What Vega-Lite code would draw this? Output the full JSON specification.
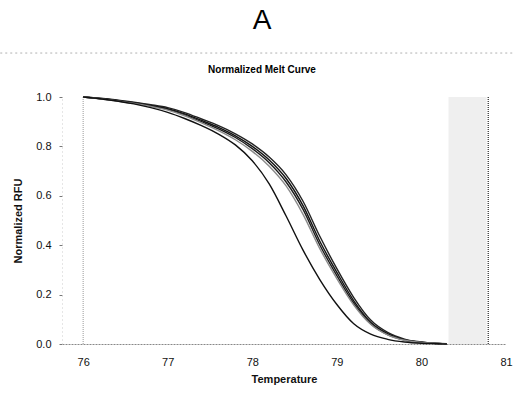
{
  "$schema": "https://vega.github.io/schema/vega-lite/v6.json",
  "width": 444,
  "height": 247,
  "autosize": "none",
  "padding": {"left": 62, "top": 97, "right": 8, "bottom": 54},
  "background": "white",
  "title": {
    "text": "A",
    "subtitle": "Normalized Melt Curve",
    "anchor": "middle",
    "dx": -22,
    "font": "Liberation Sans",
    "fontSize": 28,
    "fontWeight": "normal",
    "color": "#000000",
    "subtitleFont": "Liberation Sans",
    "subtitleFontSize": 10,
    "subtitleFontWeight": "bold",
    "subtitleColor": "#000000",
    "subtitlePadding": 30,
    "offset": -22
  },
  "config": {
    "view": {"stroke": null},
    "axis": {
      "labelFont": "Liberation Sans",
      "titleFont": "Liberation Sans",
      "labelColor": "#111111",
      "titleColor": "#111111",
      "labelFontSize": 11,
      "titleFontSize": 11,
      "titleFontWeight": "bold",
      "grid": false
    }
  },
  "datasets": {
    "curves": [
      {"s":"M1","t":76.0,"v":1.000},{"s":"M1","t":76.2,"v":0.994},{"s":"M1","t":76.4,"v":0.986},{"s":"M1","t":76.6,"v":0.977},{"s":"M1","t":76.8,"v":0.966},{"s":"M1","t":77.0,"v":0.953},{"s":"M1","t":77.2,"v":0.932},{"s":"M1","t":77.4,"v":0.905},{"s":"M1","t":77.6,"v":0.877},{"s":"M1","t":77.8,"v":0.843},{"s":"M1","t":78.0,"v":0.800},{"s":"M1","t":78.2,"v":0.745},{"s":"M1","t":78.4,"v":0.670},{"s":"M1","t":78.6,"v":0.560},{"s":"M1","t":78.8,"v":0.415},{"s":"M1","t":79.0,"v":0.290},{"s":"M1","t":79.2,"v":0.175},{"s":"M1","t":79.4,"v":0.088},{"s":"M1","t":79.6,"v":0.042},{"s":"M1","t":79.8,"v":0.018},{"s":"M1","t":80.0,"v":0.007},{"s":"M1","t":80.2,"v":0.002},{"s":"M1","t":80.3,"v":0.001},
      {"s":"M2","t":76.0,"v":1.000},{"s":"M2","t":76.2,"v":0.995},{"s":"M2","t":76.4,"v":0.988},{"s":"M2","t":76.6,"v":0.979},{"s":"M2","t":76.8,"v":0.969},{"s":"M2","t":77.0,"v":0.957},{"s":"M2","t":77.2,"v":0.937},{"s":"M2","t":77.4,"v":0.911},{"s":"M2","t":77.6,"v":0.884},{"s":"M2","t":77.8,"v":0.851},{"s":"M2","t":78.0,"v":0.810},{"s":"M2","t":78.2,"v":0.757},{"s":"M2","t":78.4,"v":0.685},{"s":"M2","t":78.6,"v":0.578},{"s":"M2","t":78.8,"v":0.435},{"s":"M2","t":79.0,"v":0.305},{"s":"M2","t":79.2,"v":0.188},{"s":"M2","t":79.4,"v":0.097},{"s":"M2","t":79.6,"v":0.047},{"s":"M2","t":79.8,"v":0.020},{"s":"M2","t":80.0,"v":0.008},{"s":"M2","t":80.2,"v":0.002},{"s":"M2","t":80.3,"v":0.001},
      {"s":"M3","t":76.0,"v":1.000},{"s":"M3","t":76.2,"v":0.993},{"s":"M3","t":76.4,"v":0.985},{"s":"M3","t":76.6,"v":0.975},{"s":"M3","t":76.8,"v":0.964},{"s":"M3","t":77.0,"v":0.950},{"s":"M3","t":77.2,"v":0.928},{"s":"M3","t":77.4,"v":0.900},{"s":"M3","t":77.6,"v":0.871},{"s":"M3","t":77.8,"v":0.836},{"s":"M3","t":78.0,"v":0.791},{"s":"M3","t":78.2,"v":0.734},{"s":"M3","t":78.4,"v":0.656},{"s":"M3","t":78.6,"v":0.545},{"s":"M3","t":78.8,"v":0.400},{"s":"M3","t":79.0,"v":0.277},{"s":"M3","t":79.2,"v":0.165},{"s":"M3","t":79.4,"v":0.082},{"s":"M3","t":79.6,"v":0.038},{"s":"M3","t":79.8,"v":0.016},{"s":"M3","t":80.0,"v":0.006},{"s":"M3","t":80.2,"v":0.002},{"s":"M3","t":80.3,"v":0.000},
      {"s":"G","t":76.0,"v":1.000},{"s":"G","t":76.2,"v":0.993},{"s":"G","t":76.4,"v":0.984},{"s":"G","t":76.6,"v":0.974},{"s":"G","t":76.8,"v":0.962},{"s":"G","t":77.0,"v":0.947},{"s":"G","t":77.2,"v":0.924},{"s":"G","t":77.4,"v":0.895},{"s":"G","t":77.6,"v":0.864},{"s":"G","t":77.8,"v":0.827},{"s":"G","t":78.0,"v":0.780},{"s":"G","t":78.2,"v":0.720},{"s":"G","t":78.4,"v":0.640},{"s":"G","t":78.6,"v":0.525},{"s":"G","t":78.8,"v":0.385},{"s":"G","t":79.0,"v":0.265},{"s":"G","t":79.2,"v":0.158},{"s":"G","t":79.4,"v":0.080},{"s":"G","t":79.6,"v":0.037},{"s":"G","t":79.8,"v":0.015},{"s":"G","t":80.0,"v":0.006},{"s":"G","t":80.2,"v":0.002},{"s":"G","t":80.3,"v":0.000},
      {"s":"L","t":76.0,"v":1.000},{"s":"L","t":76.2,"v":0.993},{"s":"L","t":76.4,"v":0.984},{"s":"L","t":76.6,"v":0.972},{"s":"L","t":76.8,"v":0.957},{"s":"L","t":77.0,"v":0.938},{"s":"L","t":77.2,"v":0.913},{"s":"L","t":77.4,"v":0.884},{"s":"L","t":77.6,"v":0.850},{"s":"L","t":77.8,"v":0.806},{"s":"L","t":78.0,"v":0.742},{"s":"L","t":78.2,"v":0.648},{"s":"L","t":78.4,"v":0.518},{"s":"L","t":78.6,"v":0.380},{"s":"L","t":78.8,"v":0.260},{"s":"L","t":79.0,"v":0.160},{"s":"L","t":79.2,"v":0.082},{"s":"L","t":79.4,"v":0.040},{"s":"L","t":79.6,"v":0.019},{"s":"L","t":79.8,"v":0.008},{"s":"L","t":80.0,"v":0.003},{"s":"L","t":80.2,"v":0.001},{"s":"L","t":80.3,"v":0.000}
    ]
  },
  "layer": [
    {
      "data": {"values": [{}]},
      "mark": {"type": "rect", "fill": "#e2e2e2", "opacity": 0.55},
      "encoding": {
        "x": {"datum": 80.32, "type": "quantitative", "scale": {"domain": [75.75, 81]}},
        "x2": {"datum": 80.77},
        "y": {"datum": 0, "type": "quantitative"},
        "y2": {"datum": 1}
      }
    },
    {
      "data": {"values": [{}]},
      "mark": {"type": "rule", "color": "#9a9a9a", "strokeDash": [1, 1], "strokeWidth": 1},
      "encoding": {
        "x": {"datum": 76, "type": "quantitative"},
        "y": {"datum": 0, "type": "quantitative"},
        "y2": {"datum": 1}
      }
    },
    {
      "data": {"values": [{}]},
      "mark": {"type": "rule", "color": "#333333", "strokeDash": [1, 1], "strokeWidth": 1.3},
      "encoding": {
        "x": {"datum": 80.79, "type": "quantitative"},
        "y": {"datum": 0, "type": "quantitative"},
        "y2": {"datum": 1}
      }
    },
    {
      "data": {"values": [{}]},
      "mark": {"type": "rule", "color": "#b0b0b0", "strokeDash": [2, 3], "strokeWidth": 1, "clip": false},
      "encoding": {
        "x": {"datum": 75.02, "type": "quantitative"},
        "x2": {"datum": 81.1},
        "y": {"datum": 1.178, "type": "quantitative"}
      }
    },
    {
      "data": {"name": "curves"},
      "mark": {"type": "line", "interpolate": "monotone", "strokeWidth": 1.4},
      "encoding": {
        "x": {
          "field": "t", "type": "quantitative",
          "scale": {"domain": [75.75, 81], "nice": false, "zero": false},
          "axis": {
            "title": "Temperature",
            "values": [76, 77, 78, 79, 80, 81],
            "format": "d",
            "ticks": false,
            "labelFlush": false,
            "labelPadding": 12,
            "titlePadding": 6,
            "domainColor": "#888888",
            "domainDash": [2, 1]
          }
        },
        "y": {
          "field": "v", "type": "quantitative",
          "scale": {"domain": [0, 1], "nice": false},
          "axis": {
            "title": "Normalized RFU",
            "values": [0, 0.2, 0.4, 0.6, 0.8, 1.0],
            "format": ".1f",
            "tickSize": 3,
            "tickColor": "#777777",
            "labelFlush": false,
            "labelPadding": 8,
            "titlePadding": 12,
            "domainColor": "#cccccc",
            "domainDash": [1, 3]
          }
        },
        "color": {
          "field": "s", "type": "nominal",
          "scale": {"domain": ["G", "M1", "M2", "M3", "L"], "range": ["#8a8a8a", "#111111", "#222222", "#1a1a1a", "#111111"]},
          "legend": null
        },
        "order": {"field": "s"}
      }
    }
  ]
}
